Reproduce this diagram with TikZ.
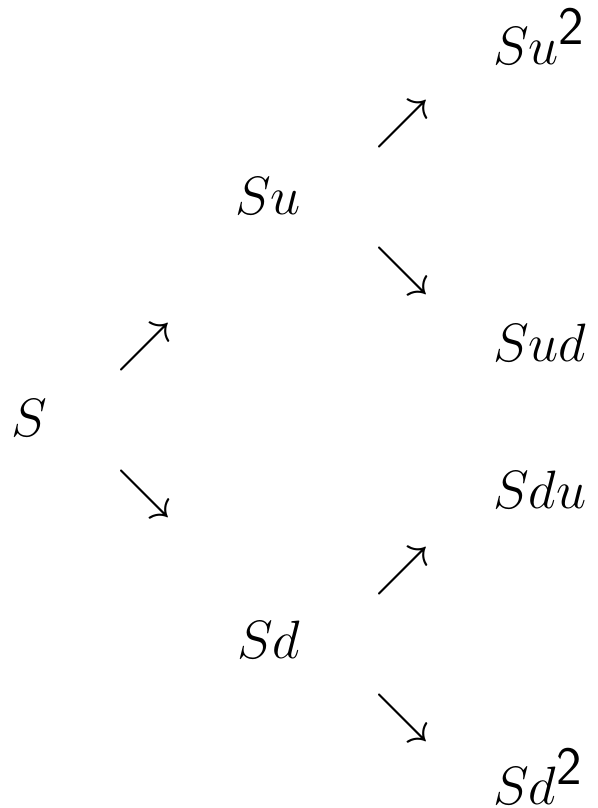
\documentclass[tikz,border=0pt]{standalone}
\usepackage{fix-cm}
\begin{document}
\begin{tikzpicture}[x=1pt,y=-1pt,
  lbl/.style={inner sep=0pt,anchor=base west,font=\fontsize{54}{60}\selectfont},
  arr/.style={inner sep=0pt,anchor=center,font=\fontsize{54}{60}\selectfont}]
\useasboundingbox (0,0) rectangle (597,808);
\node[lbl] (s) at (11,436) {$S$};
\node[lbl] (su) at (235,214) {$Su$};
\node[lbl] (sd) at (237,658) {$Sd$};
\node[lbl] (suu) at (493,64) {$Su^{\textsf{2}}$};
\node[lbl] (sud) at (493,361) {$Sud$};
\node[lbl] (sdu) at (493,508) {$Sdu$};
\node[lbl] (sdd) at (493,804) {$Sd^{\textsf{2}}$};
\node[arr] (a1) at (144,347) {$\nearrow$};
\node[arr] (a2) at (144,494) {$\searrow$};
\node[arr] (a3) at (402,124) {$\nearrow$};
\node[arr] (a4) at (402,271) {$\searrow$};
\node[arr] (a5) at (402,571) {$\nearrow$};
\node[arr] (a6) at (402,718) {$\searrow$};
\end{tikzpicture}
\end{document}
